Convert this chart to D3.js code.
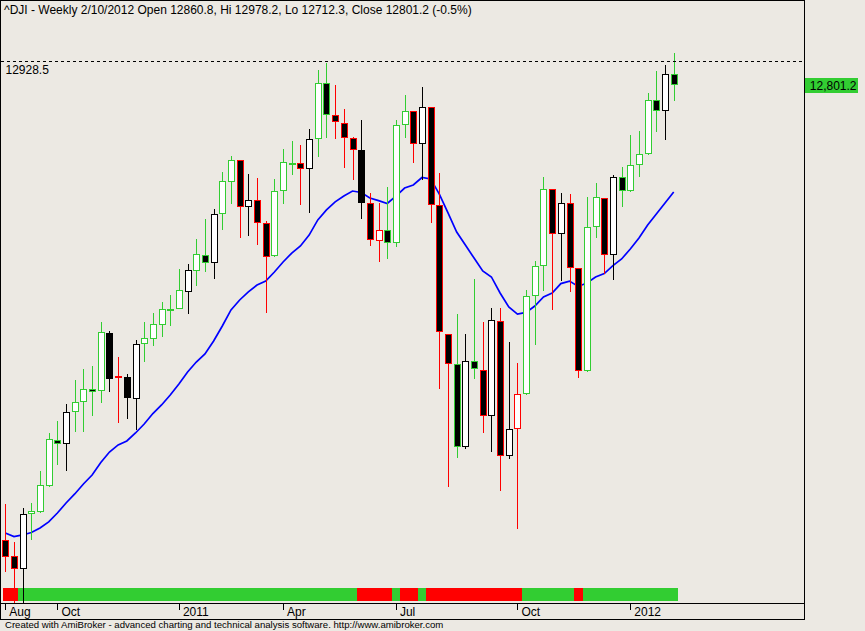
<!DOCTYPE html>
<html><head><meta charset="utf-8">
<script src="https://cdn.jsdelivr.net/npm/d3@7"></script>
<style>
html,body{margin:0;padding:0;background:#ECE9E3;}
svg{display:block;}
text{font-family:"Liberation Sans",Arial,sans-serif;}
</style></head><body>
<svg id="c" width="865" height="631"></svg>
<script>
// ---- data (weekly ^DJI, Aug 2010 .. Feb 10 2012) ----
const opens = [10247,10159,10086,10393,10404,10554,10811,10785,10965,11021,
 11094,11084,11410,11156,11163,11041,11346,11374,11457,11542,
 11546,11641,11759,11850,11801,12076,12255,12378,12115,12154,
 12025,11840,12205,12362,12365,12328,12496,12810,12631,12586,
 12502,12435,12137,11924,11986,11913,12575,12653,12468,12676,
 12126,11402,11236,10772,11251,11202,10946,11475,10722,10870,
 11066,11616,11784,12216,11965,12137,11773,11195,12003,12165,
 11846,12283,12205,12350,12412,12715,12653,12860.8];
const highs = [10451,10237,10428,10455,10636,10851,10916,11012,11146,11208,
 11225,11471,11421,11275,11180,11370,11471,11520,11584,11623,
 11769,11797,11937,12049,12105,12313,12403,12380,12302,12279,
 12036,12272,12442,12485,12462,12552,12883,12922,12799,12664,
 12507,12603,12193,12137,12227,12603,12743,12655,12788,12678,
 12305,11404,11516,11404,11713,11471,11550,11550,11359,11241,
 11651,11812,12283,12218,12193,12189,11775,12171,12249,12167,
 12294,12340,12519,12543,12754,12878,12911,12978.2];
const lows = [10069,9856,9870,10249,10400,10548,10671,10637,10853,10856,
 10946,11015,11080,10907,10929,10866,11249,11339,11389,11449,
 11544,11518,11673,11752,11714,11987,12133,11944,11956,11905,
 11524,11838,12132,12298,12126,12081,12395,12502,12496,12334,
 12266,12047,11896,11806,11823,11890,12501,12366,12268,12028,
 11094,10544,10707,10757,11150,10851,10744,10525,10705,10309,
 11064,11341,11644,11537,11701,11637,11159,11193,11944,11739,
 11709,12114,12203,12283,12410,12535,12491,12712.3];
const closes = [10152,10088,10395,10410,10555,10814,10785,10965,11021,11094,
 11079,11414,11153,11167,11047,11348,11380,11459,11543,11547,
 11649,11761,11851,11801,12076,12261,12378,12115,12154,12025,
 11834,12205,12367,12366,12330,12496,12810,12631,12592,12502,
 12435,12137,11930,11986,11913,12575,12653,12468,12676,12126,
 11414,11236,10769,11253,11206,10946,11483,10722,10870,11066,
 11616,11784,12216,11965,12137,11773,11195,12003,12171,11846,
 12283,12205,12350,12412,12715,12653,12860.8,12801.2];
// candle outline colour: g = green, r = red, k = black
const candleColor = ("rrkggggkgg"+"ggkrkkgggg"+"gkggkggrkr"+"rgggrkggrr"+"rkrrgggrkr"+"rrgkgrkrkr"+"gggrkrrggr"+"kgggggkg").split("");
const maValues = [10288,10268,10277,10291,10316,10350,10400,10456,10507,10563,
 10613,10683,10742,10782,10804,10849,10899,10958,11006,11062,
 11124,11191,11247,11292,11365,11449,11539,11595,11640,11679,
 11701,11752,11808,11858,11898,11959,12044,12100,12145,12178,
 12206,12198,12167,12152,12136,12178,12223,12240,12282,12274,
 12189,12083,11976,11903,11830,11758,11724,11634,11556,11516,
 11525,11561,11612,11634,11687,11701,11671,11690,11724,11743,
 11788,11825,11881,11943,12016,12077,12139,12201];
const bandSignal = ("rrgggggggg"+"gggggggggg"+"gggggggggg"+"gggggggggg"+"grrrrgrrgr"+"rrrrrrrrrr"+"ggggggrggg"+"gggggggg").split("");
const tickIdx = [0,6,20,32,45,59,72];
const tickLabels = ["Aug","Oct","2011","Apr","Jul","Oct","2012"];
const titleText = "^DJI - Weekly 2/10/2012 Open 12860.8, Hi 12978.2, Lo 12712.3, Close 12801.2 (-0.5%)";
const refLevel = 12928.5;
const lastClose = 12801.2;
const footerText = "Created with AmiBroker - advanced charting and technical analysis software. http://www.amibroker.com";

// ---- drawing ----
const GREEN = "#32CD32", RED = "#FF0000", BLACK = "#000000", BLUE = "#0000FF";
const colorMap = {g: GREEN, r: RED, k: BLACK};
const svg = d3.select("#c");
const N = closes.length;
const plotL = 1, plotR = 804, plotT = 1, plotB = 603, axisB = 619;
const x = d3.scaleLinear().domain([0, N - 1]).range([5.3, 673.7]);
const y = d3.scaleLinear().domain([9895.3, 13271.9]).range([plotB, plotT]);
const step = x(1) - x(0);

svg.append("rect").attr("width", 865).attr("height", 631).attr("fill", "#ECE9E3");

const defs = svg.append("defs");
defs.append("clipPath").attr("id", "plotclip").append("rect")
  .attr("x", plotL).attr("y", plotT).attr("width", plotR - plotL).attr("height", plotB - plotT);
defs.append("clipPath").attr("id", "bandclip").append("rect")
  .attr("x", 3).attr("y", plotT).attr("width", plotR - 3).attr("height", plotB - plotT);

// signal band
svg.append("g").attr("clip-path", "url(#bandclip)")
  .selectAll("rect").data(bandSignal).join("rect")
  .attr("x", (d, i) => x(i) - step / 2)
  .attr("width", step + 0.3)
  .attr("y", 588).attr("height", 13)
  .attr("fill", d => colorMap[d])
  .attr("shape-rendering", "crispEdges");

const g = svg.append("g").attr("clip-path", "url(#plotclip)");

// moving average
g.append("path").datum(maValues)
  .attr("d", d3.line().x((d, i) => x(i)).y(d => y(d)))
  .attr("fill", "none").attr("stroke", BLUE).attr("stroke-width", 1.7);

// reference dashed line
const yRef = Math.round(y(refLevel)) - 0.5;
svg.append("line").attr("x1", plotL).attr("x2", plotR).attr("y1", yRef).attr("y2", yRef)
  .attr("stroke", BLACK).attr("stroke-width", 1).attr("stroke-dasharray", "3,3")
  .attr("shape-rendering", "crispEdges");

// candles
const idx = d3.range(N);
const cg = g.append("g").attr("shape-rendering", "crispEdges");
cg.selectAll("line.wick").data(idx).join("line").attr("class", "wick")
  .attr("x1", i => Math.round(x(i)) + 0.5).attr("x2", i => Math.round(x(i)) + 0.5)
  .attr("y1", i => y(highs[i])).attr("y2", i => y(lows[i]))
  .attr("stroke", i => colorMap[candleColor[i]]).attr("stroke-width", 1);
cg.selectAll("rect.body").data(idx).join("rect").attr("class", "body")
  .attr("x", i => Math.round(x(i)) - 3 + 0.5)
  .attr("width", 6)
  .attr("y", i => Math.round(Math.min(y(opens[i]), y(closes[i]))) + 0.5)
  .attr("height", i => {
    const t = Math.round(Math.min(y(opens[i]), y(closes[i])));
    const b = Math.round(Math.max(y(opens[i]), y(closes[i])));
    return Math.max(b - t - 1, 1);
  })
  .attr("fill", i => closes[i] > opens[i] ? "#FFFFFF" : "#000000")
  .attr("stroke", i => colorMap[candleColor[i]]).attr("stroke-width", 1);

// frame
const frame = svg.append("g").attr("stroke", BLACK).attr("stroke-width", 1).attr("shape-rendering", "crispEdges");
frame.append("line").attr("x1", 0.5).attr("x2", 0.5).attr("y1", 0).attr("y2", axisB + 0.5);
frame.append("line").attr("x1", 0).attr("x2", plotR + 1).attr("y1", 0.5).attr("y2", 0.5);
frame.append("line").attr("x1", plotR + 0.5).attr("x2", plotR + 0.5).attr("y1", 0).attr("y2", axisB + 1);
frame.append("line").attr("x1", 0).attr("x2", plotR + 1).attr("y1", plotB + 0.5).attr("y2", plotB + 0.5);
frame.append("line").attr("x1", 0).attr("x2", plotR + 1).attr("y1", axisB + 0.5).attr("y2", axisB + 0.5);

// x axis ticks and labels
const ax = svg.append("g");
ax.selectAll("line").data(tickIdx).join("line")
  .attr("x1", i => Math.round(x(i)) + 0.5).attr("x2", i => Math.round(x(i)) + 0.5)
  .attr("y1", plotB + 1).attr("y2", plotB + 7)
  .attr("stroke", BLACK).attr("shape-rendering", "crispEdges");
ax.selectAll("text").data(tickIdx).join("text")
  .attr("x", i => x(i) + 4).attr("y", 615.5)
  .attr("font-size", 12).attr("fill", "#000")
  .text((d, k) => tickLabels[k]);

// title
svg.append("text").attr("x", 4).attr("y", 14).attr("font-size", 12).attr("fill", "#000").text(titleText);

// reference label
svg.append("text").attr("x", 5.5).attr("y", 73.5).attr("font-size", 12).attr("fill", "#000")
  .text(d3.format(".1f")(refLevel));

// last value box
const yLast = y(lastClose);
svg.append("rect").attr("x", 805).attr("y", Math.round(yLast) - 7).attr("width", 53).attr("height", 15)
  .attr("fill", GREEN).attr("shape-rendering", "crispEdges");
svg.append("text").attr("x", 856.5).attr("y", Math.round(yLast) + 5).attr("text-anchor", "end")
  .attr("font-size", 12).attr("fill", "#000").text(d3.format(",.1f")(lastClose));

// footer
svg.append("text").attr("x", 5).attr("y", 628).attr("font-size", 9.6).attr("fill", "#000").text(footerText);
</script>
</body></html>
